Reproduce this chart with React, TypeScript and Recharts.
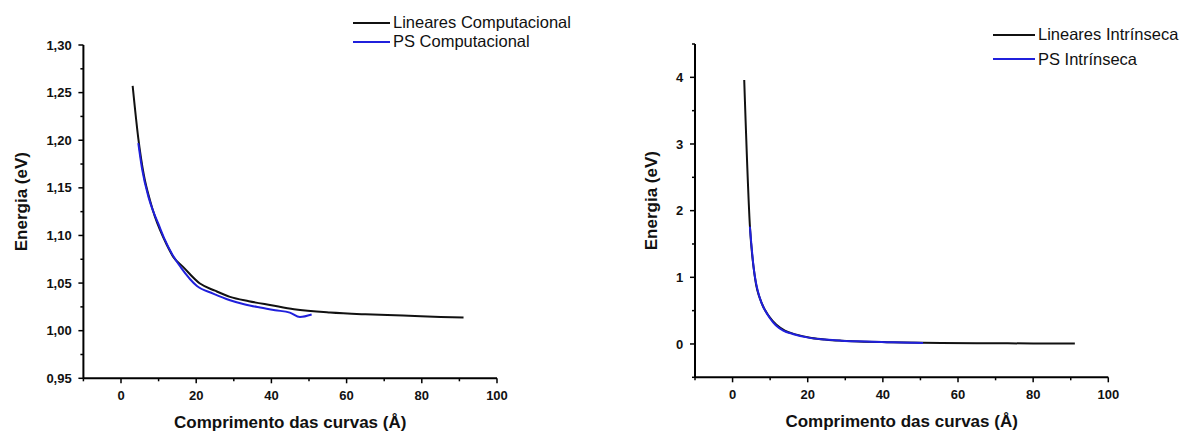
import React from 'react';
import { LineChart, Line, XAxis, YAxis, Legend, Label } from 'recharts';

const FONT = '"Liberation Sans", Arial, Helvetica, sans-serif';
const BLACK = '#111111';
const BLUE = '#2020dc';

// ---------- Left panel: Computacional ----------
const linCompX = [3.1, 4.6, 6.1, 7.7, 9.0, 10.4, 12.2, 13.9, 16.5, 21.0, 25.0, 29.0, 34.0, 40.0, 46.0, 55.6, 65.0, 75.0, 85.0, 91.1];
const linCompY = [1.257, 1.202, 1.163, 1.137, 1.12, 1.1055, 1.09, 1.0775, 1.067, 1.0495, 1.042, 1.0355, 1.031, 1.0267, 1.0225, 1.019, 1.0172, 1.016, 1.0145, 1.0138];
const psCompX = [4.6, 5.6, 7.3, 8.5, 9.9, 11.5, 13.5, 16.0, 20.2, 24.5, 29.0, 33.0, 37.0, 41.0, 44.9, 47.6, 50.7];
const psCompY = [1.197, 1.17, 1.1405, 1.126, 1.1126, 1.097, 1.081, 1.066, 1.047, 1.039, 1.032, 1.0275, 1.0243, 1.0215, 1.019, 1.0144, 1.017];

// ---------- Right panel: Intrínseca ----------
const linIntrX = [3.1, 4.6, 6.0, 7.7, 9.9, 13.9, 17.0, 21.0, 25.0, 29.0, 35.0, 40.0, 46.0, 55.6, 65.0, 80.0, 91.1];
const linIntrY = [3.96, 1.78, 0.98, 0.62, 0.4, 0.2, 0.14, 0.09, 0.065, 0.05, 0.035, 0.028, 0.022, 0.016, 0.012, 0.008, 0.006];
const psIntrX = [4.6, 5.6, 7.3, 8.5, 9.9, 11.5, 13.5, 16.0, 20.2, 24.5, 29.0, 33.0, 37.0, 41.0, 44.9, 47.6, 50.7];
const psIntrY = [1.76, 1.15, 0.68, 0.52, 0.39, 0.28, 0.2, 0.15, 0.095, 0.068, 0.05, 0.04, 0.033, 0.027, 0.022, 0.018, 0.016];

// ---------- Ticks ----------
const xTicks = [-10, 0, 10, 20, 30, 40, 50, 60, 70, 80, 90, 100];
const xMajor = [0, 20, 40, 60, 80, 100];
const leftYTicks = [0.95, 0.975, 1.0, 1.025, 1.05, 1.075, 1.1, 1.125, 1.15, 1.175, 1.2, 1.225, 1.25, 1.275, 1.3];
const leftYMajor = [0.95, 1.0, 1.05, 1.1, 1.15, 1.2, 1.25, 1.3];
const rightYTicks = [-0.5, 0, 0.5, 1, 1.5, 2, 2.5, 3, 3.5, 4, 4.5];
const rightYMajor = [0, 1, 2, 3, 4];

const xTitle = 'Comprimento das curvas (Å)';
const yTitle = 'Energia (eV)';

const zip = (xs: number[], ys: number[]) => xs.map((x, i) => ({ x, y: ys[i] }));
const isMajor = (v: number, majors: number[]) => majors.some((m) => Math.abs(m - v) < 1e-9);

const fmtComma = (v: number) => v.toFixed(2).replace('.', ',');
const fmtPlain = (v: number) => String(v);

const XTick = (props: any) => {
  const { x, y, payload } = props;
  const ay = y - 1;
  const major = isMajor(payload.value, xMajor);
  return (
    <g>
      <line x1={x} x2={x} y1={ay} y2={ay + (major ? 5 : 3)} stroke="#000" strokeWidth={1.5} />
      {major && (
        <text x={x} y={ay + 17} dy="0.35em" textAnchor="middle" fontFamily={FONT} fontWeight="bold" fontSize={13} fill={BLACK}>
          {payload.value}
        </text>
      )}
    </g>
  );
};

const makeYTick = (majors: number[], fmt: (v: number) => string) => (props: any) => {
  const { x, y, payload } = props;
  const ax = x + 1;
  const major = isMajor(payload.value, majors);
  return (
    <g>
      <line x1={ax} x2={ax - (major ? 5 : 3)} y1={y} y2={y} stroke="#000" strokeWidth={1.5} />
      {major && (
        <text x={ax - 11.7} y={y} dy="0.35em" textAnchor="end" fontFamily={FONT} fontWeight="bold" fontSize={13} fill={BLACK}>
          {fmt(payload.value)}
        </text>
      )}
    </g>
  );
};

const makeLegend = (rowH: number, lineLen: number) => (props: any) => {
  const { payload } = props;
  return (
    <div style={{ fontFamily: FONT, fontSize: 16.5, color: BLACK }}>
      {(payload || []).map((p: any) => (
        <div key={p.value} style={{ display: 'flex', alignItems: 'center', height: rowH, whiteSpace: 'nowrap' }}>
          <svg width={lineLen} height={4} style={{ display: 'block' }}>
            <line x1={0} x2={lineLen} y1={2} y2={2} stroke={p.color} strokeWidth={2.2} />
          </svg>
          <span style={{ marginLeft: 3 }}>{p.value}</span>
        </div>
      ))}
    </div>
  );
};

type PanelProps = {
  lin: { x: number; y: number }[];
  ps: { x: number; y: number }[];
  linName: string;
  psName: string;
  yDomain: [number, number];
  yTicks: number[];
  yMajor: number[];
  fmtY: (v: number) => string;
  yTitleDx: number;
  margin: { top: number; right: number; bottom: number; left: number };
  legendLeft: number;
  legendTop: number;
  legendRow: number;
  legendLine: number;
};

const Panel = (p: PanelProps) => {
  const YTick = makeYTick(p.yMajor, p.fmtY);
  return (
    <LineChart width={592} height={432} margin={p.margin}>
      <XAxis
        type="number"
        dataKey="x"
        domain={[-10, 100]}
        ticks={xTicks}
        interval={0}
        allowDataOverflow
        height={40}
        tickSize={1}
        tickMargin={0}
        tickLine={false}
        axisLine={{ stroke: '#000', strokeWidth: 2 }}
        tick={<XTick />}
      >
        <Label
          content={(lp: any) => {
            const vb = lp.viewBox || {};
            return (
              <text x={vb.x + vb.width / 2} y={vb.y + 43.4} dy="0.35em" textAnchor="middle" fontFamily={FONT} fontWeight="bold" fontSize={17} fill={BLACK}>
                {xTitle}
              </text>
            );
          }}
        />
      </XAxis>
      <YAxis
        type="number"
        dataKey="y"
        domain={p.yDomain}
        ticks={p.yTicks}
        interval={0}
        allowDataOverflow
        width={60}
        tickSize={1}
        tickMargin={0}
        tickLine={false}
        axisLine={{ stroke: '#000', strokeWidth: 2 }}
        tick={<YTick />}
      >
        <Label
          content={(lp: any) => {
            const vb = lp.viewBox || {};
            const cx = vb.x + vb.width - p.yTitleDx;
            const cy = vb.y + vb.height / 2 - 10;
            return (
              <text x={cx} y={cy} dy="0.35em" textAnchor="middle" transform={`rotate(-90 ${cx} ${cy})`} fontFamily={FONT} fontWeight="bold" fontSize={17} fill={BLACK}>
                {yTitle}
              </text>
            );
          }}
        />
      </YAxis>
      <Legend
        layout="horizontal"
        align="center"
        verticalAlign="middle"
        width={260}
        content={makeLegend(p.legendRow, p.legendLine)}
        wrapperStyle={{ left: p.legendLeft, top: p.legendTop }}
      />
      <Line data={p.lin} dataKey="y" name={p.linName} type="monotone" stroke={BLACK} strokeWidth={2} dot={false} isAnimationActive={false} />
      <Line data={p.ps} dataKey="y" name={p.psName} type="monotone" stroke={BLUE} strokeWidth={2} dot={false} isAnimationActive={false} />
    </LineChart>
  );
};

export default function App() {
  return (
    <div style={{ position: 'absolute', left: 0, top: 0, width: 1184, height: 432, background: '#fff' }}>
      <div style={{ position: 'absolute', left: 0, top: 0 }}>
        <Panel
          lin={zip(linCompX, linCompY)}
          ps={zip(psCompX, psCompY)}
          linName="Lineares Computacional"
          psName="PS Computacional"
          yDomain={[0.95, 1.3]}
          yTicks={leftYTicks}
          yMajor={leftYMajor}
          fmtY={fmtComma}
          yTitleDx={62.4}
          margin={{ top: 45, right: 95, bottom: 13.7, left: 23.4 }}
          legendLeft={353}
          legendTop={13.2}
          legendRow={19}
          legendLine={37}
        />
      </div>
      <div style={{ position: 'absolute', left: 592, top: 0 }}>
        <Panel
          lin={zip(linIntrX, linIntrY)}
          ps={zip(psIntrX, psIntrY)}
          linName="Lineares Intrínseca"
          psName="PS Intrínseca"
          yDomain={[-0.5, 4.5]}
          yTicks={rightYTicks}
          yMajor={rightYMajor}
          fmtY={fmtPlain}
          yTitleDx={44.3}
          margin={{ top: 44, right: 75.7, bottom: 14.7, left: 43 }}
          legendLeft={401}
          legendTop={22.8}
          legendRow={24.3}
          legendLine={42}
        />
      </div>
    </div>
  );
}
